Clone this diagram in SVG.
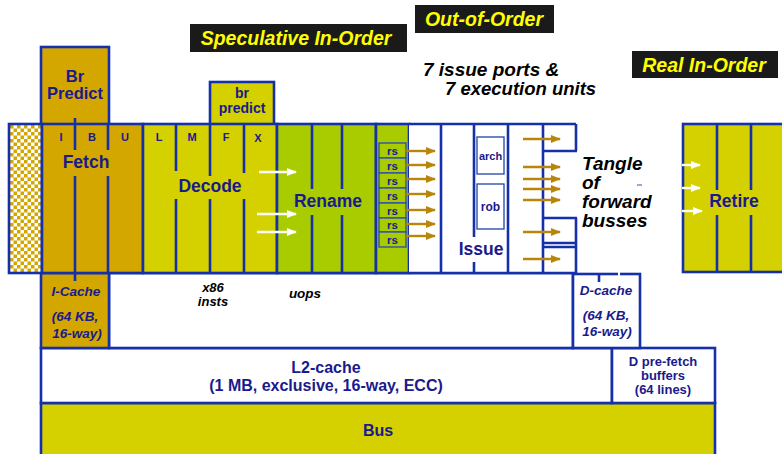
<svg xmlns="http://www.w3.org/2000/svg" width="782" height="454" viewBox="0 0 782 454">
<defs>
<pattern id="chk" x="10" y="125" width="7" height="7" patternUnits="userSpaceOnUse">
<rect width="7" height="7" fill="#ffffff"/>
<rect width="3.5" height="3.5" fill="#D4A600"/>
<rect x="3.5" y="3.5" width="3.5" height="3.5" fill="#D4A600"/>
</pattern>
<marker id="ag" markerUnits="userSpaceOnUse" markerWidth="10" markerHeight="8" refX="9" refY="4" orient="auto">
<path d="M0,0 L10,4 L0,8 Z" fill="#B8860B"/>
</marker>
<marker id="aw" markerUnits="userSpaceOnUse" markerWidth="10" markerHeight="8" refX="9" refY="4" orient="auto">
<path d="M0,0 L10,4 L0,8 Z" fill="#ffffff"/>
</marker>
<style>
.ln{stroke:#1530A8;stroke-width:2.6;fill:none}
.bx{stroke:#1530A8;stroke-width:2.6}
.thin{stroke:#3050B0;stroke-width:1.4}
.gold{fill:#D4A600}
.yel{fill:#D5D000}
.lime{fill:#A8CC00}
.t{font-family:"Liberation Sans",Arial,sans-serif;font-weight:bold;fill:#1A1A8C;text-anchor:middle}
.ti{font-family:"Liberation Sans",Arial,sans-serif;font-weight:bold;font-style:italic;fill:#1A1A8C;text-anchor:middle}
.tb{font-family:"Liberation Sans",Arial,sans-serif;font-weight:bold;font-style:italic;fill:#000000}
.lab{font-family:"Liberation Sans",Arial,sans-serif;font-weight:bold;font-style:italic;fill:#FFFF00;text-anchor:middle;font-size:19.5px}
.ga{stroke:#B8860B;stroke-width:2.4;marker-end:url(#ag)}
.wa{stroke:#ffffff;stroke-width:2.4;marker-end:url(#aw)}
</style>
</defs>
<rect width="782" height="454" fill="#ffffff"/>

<g id="label-speculative">
<rect x="190" y="24" width="217" height="28" fill="#1A1A1A"/>
<text class="lab" x="296" y="45">Speculative In-Order</text>
</g>
<g id="label-ooo">
<rect x="415" y="5" width="139" height="28" fill="#1A1A1A"/>
<text class="lab" x="484" y="25.5">Out-of-Order</text>
</g>
<g id="label-real">
<rect x="632" y="51" width="146" height="27" fill="#1A1A1A"/>
<text class="lab" x="704" y="71.5">Real In-Order</text>
</g>
<g id="issue-ports-text">
<text class="tb" font-size="19" x="423" y="76">7 issue ports &amp;</text>
<text class="tb" font-size="18.5" x="445" y="95">7 execution units</text>
</g>

<g id="bus">
<rect class="yel bx" x="41" y="403" width="674" height="60"/>
<text class="t" font-size="16" x="378" y="436">Bus</text>
</g>
<g id="l2-cache">
<rect class="bx" fill="#ffffff" x="41" y="348" width="571" height="55"/>
<text class="t" font-size="16" x="326" y="373">L2-cache</text>
<text class="t" font-size="16" x="326" y="391">(1 MB, exclusive, 16-way, ECC)</text>
</g>
<g id="d-prefetch">
<rect class="bx" fill="#ffffff" x="612" y="348" width="103" height="55"/>
<text class="t" font-size="13" x="663" y="366">D pre-fetch</text>
<text class="t" font-size="13" x="663" y="380">buffers</text>
<text class="t" font-size="13" x="663" y="394">(64 lines)</text>
</g>
<g id="mid-area">
<rect class="bx" fill="#ffffff" x="109" y="273" width="464" height="75"/>
<text class="tb" font-size="13" x="213" y="292" text-anchor="middle">x86</text>
<text class="tb" font-size="13" x="213" y="306" text-anchor="middle">insts</text>
<text class="tb" font-size="13.5" x="305" y="298" text-anchor="middle">uops</text>
</g>
<g id="i-cache">
<rect class="gold bx" x="41" y="273" width="68" height="75"/>
<line class="ln" x1="75" y1="273" x2="75" y2="281"/>
<text class="ti" font-size="13.5" x="76" y="296">I-Cache</text>
<text class="ti" font-size="13.5" x="75" y="321">(64 KB,</text>
<text class="ti" font-size="13.5" x="77" y="338">16-way)</text>
</g>
<g id="d-cache">
<rect class="bx" fill="#ffffff" x="573" y="274" width="67" height="74"/>
<line class="ln" x1="599" y1="274" x2="599" y2="282"/>
<line stroke="#ffffff" stroke-width="2" x1="619" y1="272" x2="619" y2="276"/>
<text class="ti" font-size="13.5" x="606" y="295">D-cache</text>
<text class="ti" font-size="13.5" x="606" y="320">(64 KB,</text>
<text class="ti" font-size="13.5" x="607" y="336">16-way)</text>
</g>

<g id="br-predict">
<rect class="gold bx" x="41" y="47" width="68" height="80"/>
<text class="t" font-size="16.5" x="75" y="82">Br</text>
<text class="t" font-size="16.5" x="75" y="99">Predict</text>
</g>
<g id="br-predict-small">
<rect class="yel bx" x="210" y="82" width="64" height="44"/>
<text class="t" font-size="14" x="242" y="98">br</text>
<text class="t" font-size="14" x="242" y="113">predict</text>
</g>

<g id="prefetch-buffer">
<rect fill="url(#chk)" x="9" y="124" width="33" height="149"/>
<rect class="ln" x="9" y="124" width="33" height="149"/>
</g>
<g id="fetch">
<rect class="gold bx" x="42" y="124" width="101" height="149"/>
<line class="ln" x1="75" y1="118" x2="75" y2="150"/>
<line class="ln" x1="75" y1="176" x2="75" y2="273"/>
<line class="ln" x1="108" y1="124" x2="108" y2="150"/>
<line class="ln" x1="108" y1="176" x2="108" y2="273"/>
<text class="t" font-size="11" x="61" y="141">I</text>
<text class="t" font-size="11" x="92" y="141">B</text>
<text class="t" font-size="11" x="125" y="141">U</text>
<text class="t" font-size="17.5" x="86" y="168">Fetch</text>
</g>
<g id="decode">
<rect class="yel bx" x="143" y="124" width="134" height="149"/>
<line class="ln" x1="176" y1="124" x2="176" y2="171"/>
<line class="ln" x1="176" y1="199" x2="176" y2="273"/>
<line class="ln" x1="210" y1="124" x2="210" y2="176"/>
<line class="ln" x1="210" y1="199" x2="210" y2="273"/>
<line class="ln" x1="244" y1="124" x2="244" y2="173"/>
<line class="ln" x1="244" y1="199" x2="244" y2="273"/>
<text class="t" font-size="11" x="159" y="141">L</text>
<text class="t" font-size="11" x="192" y="141">M</text>
<text class="t" font-size="11" x="226" y="141">F</text>
<text class="t" font-size="11" x="258" y="142">X</text>
<text class="t" font-size="17.5" x="210" y="192">Decode</text>
</g>
<g id="rename">
<rect class="lime bx" x="277" y="124" width="99" height="149"/>
<line class="ln" x1="312" y1="124" x2="312" y2="189"/>
<line class="ln" x1="312" y1="215" x2="312" y2="273"/>
<line class="ln" x1="342" y1="124" x2="342" y2="189"/>
<line class="ln" x1="342" y1="215" x2="342" y2="273"/>
<text class="t" font-size="17.5" x="328" y="207">Rename</text>
</g>
<g id="rs">
<rect class="lime bx" x="376" y="124" width="33" height="149"/>
<g class="thin" fill="#A8CC00">
<rect x="379" y="143" width="27" height="15"/>
<rect x="379" y="158" width="27" height="15"/>
<rect x="379" y="173" width="27" height="15"/>
<rect x="379" y="188" width="27" height="15"/>
<rect x="379" y="203" width="27" height="15"/>
<rect x="379" y="218" width="27" height="14"/>
<rect x="379" y="232" width="27" height="15"/>
</g>
<g class="t" font-size="11.5">
<text x="392.5" y="154.5">rs</text>
<text x="392.5" y="169.5">rs</text>
<text x="392.5" y="184.5">rs</text>
<text x="392.5" y="199.5">rs</text>
<text x="392.5" y="214.5">rs</text>
<text x="392.5" y="229">rs</text>
<text x="392.5" y="243.5">rs</text>
</g>
</g>
<g id="issue">
<rect fill="#ffffff" x="409" y="124" width="167" height="149"/>
<line class="ln" x1="409" y1="124" x2="576" y2="124"/>
<line class="ln" x1="409" y1="273" x2="576" y2="273"/>
<line class="ln" x1="441" y1="124" x2="441" y2="273"/>
<line class="ln" x1="474" y1="124" x2="474" y2="237"/>
<line class="ln" x1="474" y1="262" x2="474" y2="273"/>
<line class="ln" x1="508" y1="124" x2="508" y2="273"/>
<line class="ln" x1="543" y1="124" x2="543" y2="273"/>
<line class="ln" x1="576" y1="124" x2="576" y2="151"/>
<line class="ln" x1="543" y1="151" x2="577" y2="151"/>
<line class="ln" x1="576" y1="218" x2="576" y2="273"/>
<line class="ln" x1="543" y1="218" x2="577" y2="218"/>
<line class="ln" x1="543" y1="243" x2="577" y2="243"/>
<line class="ln" x1="543" y1="247" x2="577" y2="247"/>
<rect class="thin" fill="#ffffff" x="477" y="137" width="27" height="37"/>
<rect class="thin" fill="#ffffff" x="477" y="184" width="27" height="45"/>
<text class="t" font-size="11" x="490.5" y="160">arch</text>
<text class="t" font-size="12" x="490.5" y="211">rob</text>
<text class="t" font-size="17.5" x="481" y="255">Issue</text>
</g>
<g id="retire">
<rect class="yel bx" x="683" y="124" width="105" height="148"/>
<line class="ln" x1="717" y1="124" x2="717" y2="190"/>
<line class="ln" x1="717" y1="215" x2="717" y2="272"/>
<line class="ln" x1="751" y1="124" x2="751" y2="190"/>
<line class="ln" x1="751" y1="215" x2="751" y2="272"/>
<text class="t" font-size="17.5" x="734" y="207">Retire</text>
</g>
<g id="tangle-text">
<text class="tb" font-size="19" x="582" y="170">Tangle</text>
<text class="tb" font-size="19" x="582" y="189">of</text>
<text class="tb" font-size="19" x="582" y="208">forward</text>
<text class="tb" font-size="19" x="582" y="227">busses</text>
<line x1="637" y1="185" x2="642" y2="185" stroke="#3050B0" stroke-width="1"/>
</g>

<g id="connectors">
<line class="wa" x1="259" y1="172" x2="296" y2="172"/>
<line class="wa" x1="257" y1="214" x2="296" y2="214"/>
<line class="wa" x1="257" y1="232" x2="296" y2="232"/>
<line class="ga" x1="406" y1="151" x2="435" y2="151"/>
<line class="ga" x1="406" y1="165" x2="435" y2="165"/>
<line class="ga" x1="406" y1="179" x2="435" y2="179"/>
<line class="ga" x1="406" y1="194" x2="435" y2="194"/>
<line class="ga" x1="406" y1="210" x2="435" y2="210"/>
<line class="ga" x1="406" y1="224" x2="435" y2="224"/>
<line class="ga" x1="406" y1="236" x2="435" y2="236"/>
<line class="ga" x1="523" y1="139" x2="560" y2="139"/>
<line class="ga" x1="523" y1="167" x2="560" y2="167"/>
<line class="ga" x1="523" y1="179" x2="560" y2="179"/>
<line class="ga" x1="523" y1="189" x2="560" y2="189"/>
<line class="ga" x1="523" y1="200" x2="560" y2="200"/>
<line class="ga" x1="523" y1="232" x2="560" y2="232"/>
<line class="ga" x1="523" y1="259" x2="560" y2="259"/>
<line class="wa" x1="682" y1="165" x2="700" y2="165"/>
<line class="wa" x1="682" y1="188" x2="700" y2="188"/>
<line class="wa" x1="682" y1="211" x2="702" y2="211"/>
</g>
</svg>
